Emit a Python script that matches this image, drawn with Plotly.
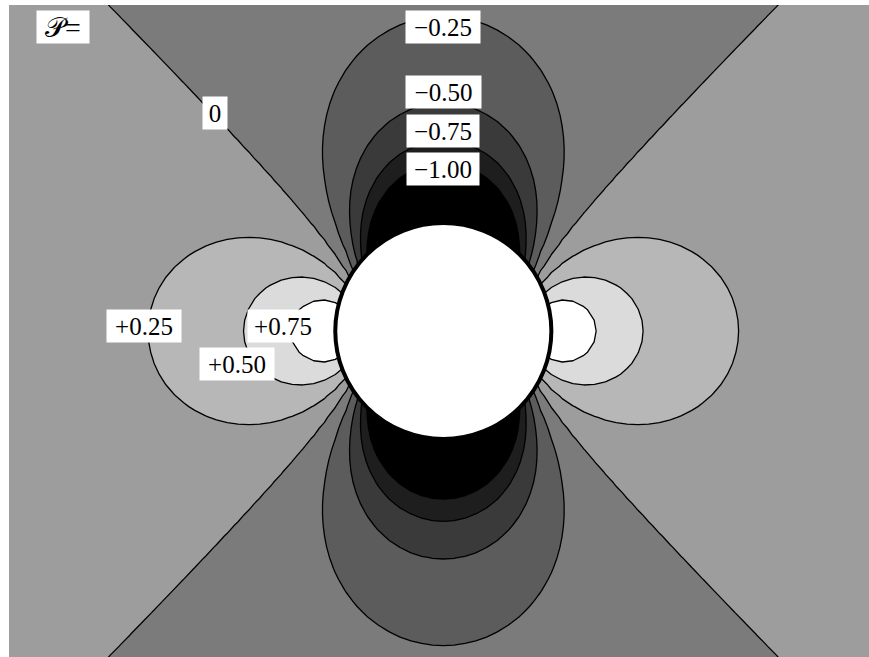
import numpy as np
import plotly.graph_objects as go

# Contour levels of the pressure coefficient and band colours (low -> high)
levels = [-1.0, -0.75, -0.5, -0.25, 0.0, 0.25, 0.5, 0.75]
band_grays = [0, 30, 58, 92, 123, 157, 183, 219, 255]

# Label texts and their positions (data units)
label_texts = ["\U0001D4AB=", "0", "\u22120.25", "\u22120.50", "\u22120.75", "\u22121.00",
               "+0.25", "+0.75", "+0.50"]
label_x = [-3.52, -2.115, 0.0, 0.0, 0.0, 0.0, -2.77, -1.486, -1.911]
label_y = [2.81, 2.02, 2.81, 2.21, 1.85, 1.50, 0.046, 0.046, -0.305]
label_w = [52, 24, 74, 75, 72, 72, 74, 70, 74]

# Potential flow past a cylinder of unit radius: pressure coefficient field
cyl_radius = 1.0
gx = np.arange(-4.2, 4.2001, 0.1)
gy = np.arange(-3.2, 3.2001, 0.1)
X, Y = np.meshgrid(gx, gy)
R = np.sqrt(X**2 + Y**2)
Rc = np.maximum(R, 0.9 * cyl_radius)
TH = np.arctan2(Y, X)
Z = 2 * cyl_radius**2 * np.cos(2 * TH) / Rc**2 - cyl_radius**4 / Rc**4

nb = len(band_grays)
colorscale = [[i / (nb - 1), f"rgb({g},{g},{g})"] for i, g in enumerate(band_grays)]
step = levels[1] - levels[0]

fig = go.Figure()
fig.add_trace(go.Contour(
    x=gx, y=gy, z=Z,
    autocontour=False,
    contours=dict(start=levels[0], end=levels[-1], size=step, coloring="fill"),
    colorscale=colorscale,
    showscale=False,
    line=dict(color="black", width=1.3, smoothing=0),
    hoverinfo="skip",
))

fig.add_shape(type="circle", xref="x", yref="y",
              x0=-cyl_radius, x1=cyl_radius, y0=-cyl_radius, y1=cyl_radius,
              fillcolor="white", line=dict(color="black", width=4), layer="above")

for i, (t, lx, ly, w) in enumerate(zip(label_texts, label_x, label_y, label_w)):
    fig.add_annotation(x=lx, y=ly, xref="x", yref="y", text=t, showarrow=False,
                       font=dict(family="Liberation Serif, Times New Roman, serif",
                                 size=28 if i == 0 else 25, color="black"),
                       width=w, height=32, align="center", valign="middle",
                       bgcolor="white", borderpad=0)

fig.update_layout(
    width=869, height=657,
    margin=dict(l=9, r=0, t=5, b=0),
    paper_bgcolor="white", plot_bgcolor="white",
    showlegend=False,
    xaxis=dict(range=[-4.02, 3.94], visible=False, showgrid=False, zeroline=False),
    yaxis=dict(range=[-3.017, 3.017], visible=False, showgrid=False, zeroline=False),
)

fig.write_html("out.html", config={"displayModeBar": False, "staticPlot": True},
               post_script="document.body.style.margin='0';document.body.style.overflow='hidden';")
